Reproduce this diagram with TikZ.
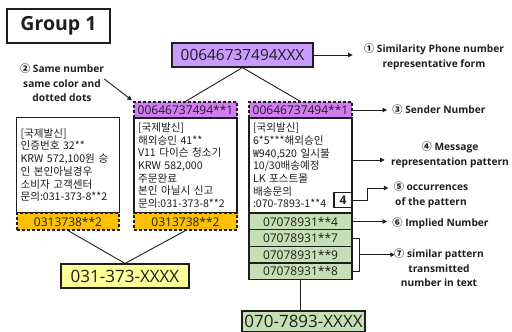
\documentclass[tikz,border=0pt]{standalone}
\usepackage{fontspec}
\setmainfont{Open Sans}
\newfontfamily\kr{Noto Sans CJK KR}
\usetikzlibrary{arrows.meta}
\definecolor{ink}{HTML}{1E1E1E}
\definecolor{lilac}{HTML}{C99BFF}
\definecolor{orchid}{HTML}{D27CF2}
\definecolor{amber}{HTML}{FFC000}
\definecolor{butter}{HTML}{FFFF99}
\definecolor{sage}{HTML}{C5E0B4}
\tikzset{
  every picture/.style={line width=0.9pt, color=ink},
  titlebox/.style={draw=ink, line width=1.4pt, minimum width=103pt, minimum height=34pt, font=\bfseries\fontsize{19.5}{21}\selectfont},
  bignum/.style={draw=ink, line width=1.2pt, inner sep=0pt, font=\fontsize{15.4}{18}\selectfont},
  cell/.style={draw=ink, line width=1.1pt, inner sep=0pt, minimum width=103pt, minimum height=16.6pt, font=\fontsize{12}{14}\selectfont},
  hdr/.style={cell, fill=orchid, dash pattern=on 3pt off 2pt, minimum height=16pt},
  tail/.style={cell, fill=amber, dash pattern=on 3pt off 2pt, minimum height=17pt},
  imp/.style={cell, fill=sage},
  msg/.style={draw=ink, line width=1.1pt, fill=white, text width=95pt, minimum height=95pt, inner sep=4pt, align=left, font=\kr\fontsize{10.6}{12.7}\selectfont},
  tag/.style={font=\bfseries\fontsize{10.2}{14.5}\selectfont, align=center, inner sep=0pt},
  arr/.style={-{Triangle[length=4.5pt,width=4.5pt]}, line width=0.9pt},
  link/.style={line width=0.9pt},
}
\begin{document}
\begin{tikzpicture}[x=1pt, y=-1pt]
\useasboundingbox (0,0) rectangle (512,332);
% title and representative form
\node[titlebox] (grp) at (58.5,26) {Group 1};
\node[bignum, fill=lilac, minimum width=141pt, minimum height=24pt] (rep) at (242.5,55) {00646737494XXX};
% left column
\node[msg] (msgA) at (68,165) {[국제발신]\\인증번호 32**\\KRW 572,100원 승\\인 본인아닐경우\\소비자 고객센터\\문의:031-373-8**2};
\node[tail, minimum width=102pt] (numA) at (68,221.5) {0313738**2};
% middle column
\node[hdr] (hdrB) at (185.5,110) {00646737494**1};
\node[msg] (msgB) at (185.5,165.5) {[국제발신]\\해외승인 41**\\V11 다이슨 청소기\\KRW 582,000\\주문완료\\본인 아닐시 신고\\문의:031-373-8**2};
\node[tail] (numB) at (185.5,221.5) {0313738**2};
% right column
\node[hdr] (hdrC) at (300.5,110) {00646737494**1};
\node[msg] (msgC) at (300.5,165.5) {[국외발신]\\6*5***해외승인\\₩940,520 일시불\\10/30배송예정\\LK 포스트몰\\배송문의\\:070-7893-1**4};
\node[draw=ink, line width=1.1pt, fill=white, minimum width=18pt, minimum height=15pt, inner sep=0pt, font=\bfseries\fontsize{12}{14}\selectfont] (cnt) at (343,200) {4};
\node[imp] (g1) at (300.5,221.5) {07078931**4};
\node[imp] (g2) at (300.5,238.1) {07078931**7};
\node[imp] (g3) at (300.5,254.7) {07078931**9};
\node[imp] (g4) at (300.5,271.3) {07078931**8};
% merged numbers
\node[bignum, fill=butter, minimum width=128pt, minimum height=24pt, font=\fontsize{17}{19}\selectfont] (yel) at (125,276) {031-373-XXXX};
\node[bignum, fill=sage, minimum width=123pt, minimum height=21pt, font=\fontsize{17}{19}\selectfont] (fin) at (303.5,321.5) {070-7893-XXXX};
% tree lines
\draw[link] (rep.south) -- (hdrB.north);
\draw[link] (rep.south) -- (hdrC.north);
\draw[link] (numA.south) -- (yel.north);
\draw[link] (numB.south) -- (yel.north);
\draw[link] (g4.south) -- (g4.south |- fin.north);
% labels
\node[tag] (lblone) at (434,57) {{\kr ①} Similarity Phone number\\representative form};
\node[tag] (lbltwo) at (62,83) {{\kr ②} Same number\\same color and\\dotted dots};
\node[tag, anchor=west] (lblthree) at (392,110) {{\kr ③} Sender Number};
\node[tag] (lblfour) at (450,155) {{\kr ④} Message\\representation pattern};
\node[tag] (lblfive) at (431,195) {{\kr ⑤} occurrences\\of the pattern};
\node[tag, anchor=west] (lblsix) at (392,223) {{\kr ⑥} Implied Number};
\node[tag] (lblseven) at (439,268) {{\kr ⑦} similar pattern\\transmitted\\number in text};
% label arrows
\draw[arr, shorten >=11pt] (rep.east) -- (rep.east -| lblone.west);
\draw[arr, shorten >=2pt] ([yshift=4pt]lbltwo.east) -- (hdrB.north west);
\draw[arr, shorten >=5pt] (hdrC.east) -- (lblthree.west);
\draw[arr, shorten >=6pt] ([yshift=5.5pt]msgC.east) -- ([yshift=5.5pt]msgC.east -| lblfour.west);
\draw[arr, shorten >=5pt] (cnt.east) -- ++(15,0) |- ([yshift=7pt]lblfive.west);
\draw[arr, shorten >=5pt] (g1.east) -- (g1.east -| lblsix.west);
\draw (g2.east) -- ++(7,0) |- (g4.east);
\draw[arr, shorten >=6pt] ([xshift=7pt]g3.east) -- ([xshift=7pt]g3.east -| lblseven.west);
\end{tikzpicture}
\end{document}
